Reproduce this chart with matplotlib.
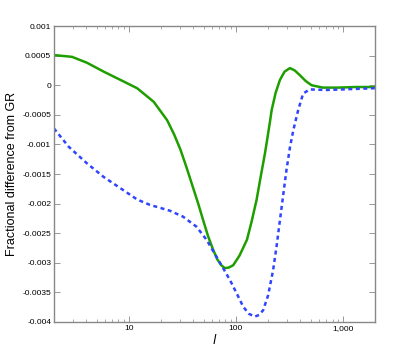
import numpy as np
import matplotlib.pyplot as plt
from matplotlib.ticker import LogLocator, NullFormatter

plt.rcParams['font.family'] = ['Liberation Sans', 'DejaVu Sans']

# multipole l and fractional difference
l_green = [2, 2.95, 4.07, 5.83, 8.36, 11.96, 17.1, 22.8, 26.5, 30.4, 34.5, 39.5, 44.5, 49.5,
           55, 61.4, 67, 73, 78.8, 86, 94.5, 108, 127, 140, 156, 170, 187, 198, 208, 216,
           235, 258, 285, 320, 355, 396, 450, 510, 650, 900, 1300, 2000]
d_green = [0.00051, 0.00048, 0.00038, 0.00023, 0.00009, -0.00005, -0.00028, -0.00059,
           -0.00083, -0.00109, -0.00138, -0.00171, -0.00200, -0.00228, -0.00255, -0.00278,
           -0.00294, -0.00304, -0.00309, -0.00308, -0.00304, -0.00288, -0.00261, -0.00231,
           -0.00194, -0.00156, -0.00115, -0.00087, -0.00062, -0.00042, -0.00013, 0.00009,
           0.00023, 0.00029, 0.00025, 0.00017, 0.00007, 0.0, -0.00004, -0.00004, -0.00003,
           -0.00003]

l_blue = [2, 2.75, 4.07, 5.83, 8.36, 11.96, 15.7, 19.5, 24.2, 32.1, 42.9, 53.2, 66, 76,
          88, 102, 117, 132, 150, 165, 180, 200, 223, 240, 258, 277, 297, 320, 344, 382,
          425, 490, 700, 1000, 2000]
d_blue = [-0.00073, -0.00104, -0.00132, -0.00155, -0.00174, -0.00193, -0.00202, -0.00207,
          -0.00212, -0.00222, -0.00239, -0.00261, -0.00290, -0.00309, -0.00329, -0.00352,
          -0.00374, -0.00386, -0.00391, -0.00388, -0.00380, -0.00355, -0.00312, -0.00272,
          -0.00228, -0.00185, -0.00143, -0.00105, -0.00076, -0.00042, -0.00014, -0.00007,
          -0.00008, -0.00007, -0.00005]

yticks = [0.001, 0.0005, 0, -0.0005, -0.001, -0.0015, -0.002, -0.0025, -0.003, -0.0035, -0.004]
ytick_labels = ['0.001', '0.0005', '0', '-0.0005', '-0.001', '-0.0015', '-0.002',
                '-0.0025', '-0.003', '-0.0035', '-0.004']
xticks = [10, 100, 1000]
xtick_labels = ['10', '100', '1,000']

fig = plt.figure(figsize=(4.15, 3.62), dpi=100)
ax = fig.add_axes([0.130, 0.1105, 0.774, 0.8175])

ax.plot(l_green, d_green, color='#1f9e00', lw=1.8)
ax.plot(l_blue, d_blue, color='#2f45ff', lw=1.8, linestyle=(0, (1.6, 1.4)))

ax.set_xscale('log')
ax.set_xlim(2, 2000)
ax.set_ylim(-0.004, 0.001)

ax.set_xticks(xticks)
ax.set_xticklabels(xtick_labels)
ax.xaxis.set_minor_locator(LogLocator(base=10, subs=np.arange(2, 10)))
ax.xaxis.set_minor_formatter(NullFormatter())
ax.set_yticks(yticks)
ax.set_yticklabels(ytick_labels)

ax.tick_params(which='both', direction='in', top=True, right=True, labelsize=6,
               color='#888888', pad=2)
ax.tick_params(which='major', length=4, width=0.6)
ax.tick_params(which='minor', length=2, width=0.5)
for s in ax.spines.values():
    s.set_color('#888888')
    s.set_linewidth(1.0)

ax.set_xlabel('$l$', fontsize=9, labelpad=1)
ax.set_ylabel('Fractional difference from GR', fontsize=9)
ax.yaxis.set_label_coords(-0.112, 0.5)

fig.savefig('out.png', dpi=100)
